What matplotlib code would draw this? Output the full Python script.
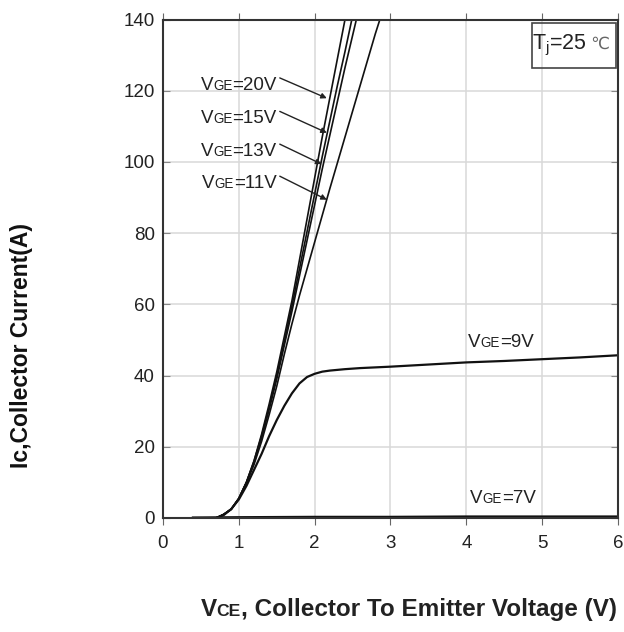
#IGBT output characteristics, Tj = 25C

import numpy as np
import matplotlib
matplotlib.use('Agg')
import matplotlib.pyplot as plt
from matplotlib.patches import Rectangle
from matplotlib.offsetbox import TextArea, HPacker, AnnotationBbox

plt.rcParams['font.family'] = ['Liberation Sans', 'DejaVu Sans']
plt.rcParams['mathtext.fontset'] = 'custom'
plt.rcParams['mathtext.rm'] = 'Liberation Sans'

# collector current vs VCE, one curve per gate voltage
v20 = [0.4, 0.7, 0.8, 0.9, 1.0, 1.1, 1.2, 1.3, 1.4, 1.5, 1.6, 1.7, 1.8, 1.9, 2.0, 2.1, 2.2, 2.3, 2.4]
i20 = [0, 0, 1, 2.5, 5.5, 10, 16, 23.5, 32, 41, 51, 61, 72.5, 84, 95.5, 107, 118, 129, 140]

v15 = [0.4, 0.7, 0.8, 0.9, 1.0, 1.1, 1.2, 1.3, 1.4, 1.5, 1.6, 1.7, 1.8, 1.9, 2.0, 2.1, 2.2, 2.3, 2.4, 2.49]
i15 = [0, 0, 1, 2.5, 5.5, 10, 16, 23, 31, 40, 49.5, 59.5, 70, 80.5, 91, 101.5, 111.5, 121.5, 131, 140]

v13 = [0.4, 0.7, 0.8, 0.9, 1.0, 1.1, 1.2, 1.3, 1.4, 1.5, 1.6, 1.7, 1.8, 1.9, 2.0, 2.1, 2.2, 2.3, 2.4, 2.5, 2.55]
i13 = [0, 0, 1, 2.5, 5.5, 10, 15.5, 22.5, 30.5, 39, 48.5, 58, 68, 78, 88, 98, 107.5, 117, 126.5, 135.5, 140]

v11 = [0.4, 0.7, 0.8, 0.9, 1.0, 1.1, 1.2, 1.3, 1.4, 1.5, 1.6, 1.7, 1.8, 1.9, 2.0, 2.1, 2.2, 2.4, 2.6, 2.8, 2.86]
i11 = [0, 0, 1, 2.4, 5.4, 9.8, 15, 21.5, 29, 37, 46, 54.5, 62.5, 70, 77.5, 85, 92.5, 107, 121.5, 136, 140]

v9 = [0.4, 0.7, 0.8, 0.9, 1.0, 1.1, 1.2, 1.3, 1.4, 1.5, 1.6, 1.7, 1.8, 1.9, 2.0, 2.1, 2.2, 2.4, 2.6, 3.0, 3.5, 4.0, 4.5, 5.0, 5.5, 6.0]
i9 = [0, 0, 0.8, 2.5, 5.2, 9, 13.5, 18, 23, 27.5, 31.5, 35, 37.8, 39.6, 40.5, 41.1, 41.4, 41.8, 42.1, 42.5, 43.1, 43.7, 44.1, 44.6, 45.1, 45.7]

v7 = [0.4, 1.0, 2.0, 3.0, 4.0, 5.0, 6.0]
i7 = [0, 0.1, 0.2, 0.2, 0.3, 0.3, 0.3]

# labels with arrows: name, text anchor (x, y), arrow tip (x, y)
arrow_labels = ['20V', '15V', '13V', '11V']
arrow_from = [(1.54, 123.6), (1.54, 114.2), (1.54, 105.0), (1.54, 96.0)]
arrow_to = [(2.16, 117.9), (2.16, 108.2), (2.09, 99.4), (2.16, 89.4)]

xticks = [0, 1, 2, 3, 4, 5, 6]
yticks = [0, 20, 40, 60, 80, 100, 120, 140]


def vge_label(value, size=13.5, weight='normal', sub='GE'):
    big = dict(fontsize=size, color='#222', fontweight=weight)
    small = dict(fontsize=size * 0.72, color='#222', fontweight=weight)
    parts = [TextArea('V', textprops=big), TextArea(sub, textprops=small),
             TextArea(value, textprops=big)]
    return HPacker(children=parts, align='baseline', pad=0, sep=0)


fig = plt.figure(figsize=(6.24, 6.32), dpi=100)
ax = fig.add_axes([0.2612, 0.1804, 0.7292, 0.7887])

ax.plot(v20, i20, color='#111', lw=1.2)
ax.plot(v15, i15, color='#111', lw=1.2)
ax.plot(v13, i13, color='#111', lw=1.2)
ax.plot(v11, i11, color='#111', lw=1.2)
ax.plot(v9, i9, color='#111', lw=1.6)
ax.plot(v7, i7, color='#111', lw=2.2)

ax.set_xlim(0, 6)
ax.set_ylim(0, 140)
ax.set_xticks(xticks)
ax.set_yticks(yticks)
ax.grid(True, color='#d8d8d8', lw=1.1)
ax.set_axisbelow(True)

for s in ax.spines.values():
    s.set_color('#333')
    s.set_linewidth(1.5)

ax.tick_params(axis='x', direction='out', length=5, color='#666', pad=7,
               labelsize=13.5, labelcolor='#222', top=True)
ax.tick_params(axis='y', direction='in', length=5, color='#888', pad=6,
               labelsize=13.5, labelcolor='#222', right=True)

# VGE labels with arrows pointing to the curves
for name, p0, p1 in zip(arrow_labels, arrow_from, arrow_to):
    ab = AnnotationBbox(vge_label('=' + name), (p0[0] - 0.04, p0[1] - 2.0),
                        xycoords='data', box_alignment=(1, 0.5), frameon=False)
    ax.add_artist(ab)
    ax.annotate('', xy=p1, xytext=p0,
                arrowprops=dict(arrowstyle='-|>', color='#222', lw=1.0,
                                mutation_scale=8, shrinkA=0, shrinkB=0))

ab9 = AnnotationBbox(vge_label('=9V'), (4.02, 49.3), xycoords='data',
                     box_alignment=(0, 0.5), frameon=False)
ax.add_artist(ab9)
ab7 = AnnotationBbox(vge_label('=7V'), (4.05, 5.6), xycoords='data',
                     box_alignment=(0, 0.5), frameon=False)
ax.add_artist(ab7)

# junction temperature box
ax.add_patch(Rectangle((4.86, 126.4), 1.11, 12.6, fill=False, ec='#444', lw=1.2))
tj = HPacker(children=[
    TextArea(r'T$_\mathrm{j}$=25', textprops=dict(fontsize=15.5, color='#222')),
    TextArea(' \u2103', textprops=dict(fontsize=12, color='#666', family='DejaVu Sans'))],
    align='baseline', pad=0, sep=0)
ax.add_artist(AnnotationBbox(tj, (5.38, 132.8), xycoords='data',
                             box_alignment=(0.5, 0.5), frameon=False))

# axis titles
fig.text(0.035, 0.454, 'Ic,Collector Current(A)', rotation=90, ha='center', va='center',
         fontsize=16.5, fontweight='bold', color='#111')
xl = vge_label(', Collector To Emitter Voltage (V)', size=17.5, weight='bold', sub='CE')
fig.add_artist(AnnotationBbox(xl, (0.655, 0.035), xycoords='figure fraction',
                              box_alignment=(0.5, 0.5), frameon=False))

fig.savefig('out.png', dpi=100)
